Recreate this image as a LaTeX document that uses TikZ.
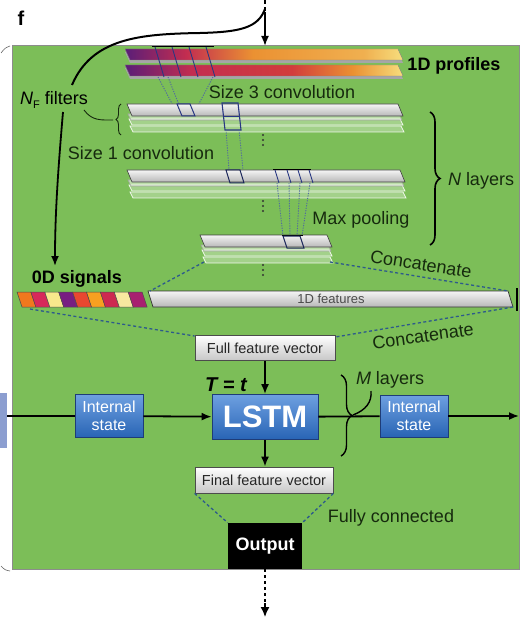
\documentclass[tikz,border=0pt]{standalone}
\usepackage{fontspec}
\setmainfont{Liberation Sans}
\usetikzlibrary{arrows.meta,decorations.pathreplacing,calc}
\definecolor{bg}{RGB}{124,190,88}
\definecolor{txt}{RGB}{22,42,14}
\definecolor{dashc}{RGB}{45,90,140}
\definecolor{dotc}{RGB}{80,105,160}
\definecolor{winc}{RGB}{40,55,130}
\definecolor{bbd}{RGB}{30,60,120}
\definecolor{bT}{RGB}{110,160,225}
\definecolor{bB}{RGB}{40,100,180}
\definecolor{pP}{RGB}{90,30,120}
\definecolor{pR}{RGB}{195,45,80}
\definecolor{pR2}{RGB}{210,60,60}
\definecolor{pO}{RGB}{235,145,50}
\definecolor{pY}{RGB}{247,222,125}
\definecolor{cA}{RGB}{240,120,30}
\definecolor{cB}{RGB}{215,40,90}
\definecolor{cC}{RGB}{248,232,140}
\definecolor{cD}{RGB}{120,30,130}
\definecolor{cE}{RGB}{232,72,48}
\definecolor{cF}{RGB}{248,160,32}
\definecolor{cG}{RGB}{205,40,80}
\definecolor{cH}{RGB}{248,232,160}
\definecolor{cI}{RGB}{168,32,112}
\definecolor{sideb}{RGB}{140,158,208}
\pgfdeclarehorizontalshading{profA}{100bp}{color(0bp)=(pP); color(25bp)=(pP); color(36bp)=(pR); color(48bp)=(pO); color(68bp)=(pO!60!pY); color(75bp)=(pY); color(100bp)=(pY)}
\pgfdeclarehorizontalshading{profB}{100bp}{color(0bp)=(pP); color(25bp)=(pP); color(37bp)=(pR); color(55bp)=(pR2); color(66bp)=(pO); color(75bp)=(pY); color(100bp)=(pY)}
\newcommand{\myslab}[6]{\path[#1] (#2,#4) -- (#3,#4) -- ({#3+#6},{#4+#5}) -- ({#2+#6},{#4+#5}) -- cycle;}
\newcommand{\mylayer}[3]{%
  \myslab{fill=white,fill opacity=0.3,draw=white,draw opacity=0.85,line width=0.7pt}{#1+3}{#2+3}{#3+22}{6}{3}
  \myslab{fill=white,fill opacity=0.3,draw=white,draw opacity=0.85,line width=0.7pt}{#1+2}{#2+2}{#3+15}{6}{3}
  \myslab{fill=white,fill opacity=0.5,draw=black!35,line width=0.6pt}{#1+1}{#2+1}{#3+10}{6}{3}
  \myslab{shade,top color=white!96!black,bottom color=black!28,draw=black!75,line width=0.6pt}{#1}{#2}{#3}{12}{5}}
\begin{document}
\begin{tikzpicture}[x=1pt,y=-1pt,
  lbl/.style={font=\fontsize{18}{20}\selectfont, text=txt, inner sep=0},
  bld/.style={font=\fontsize{18}{20}\selectfont\bfseries, text=black, inner sep=0},
  bluebox/.style={draw=bbd, line width=0.8pt, top color=bT, bottom color=bB, text=white, align=center, inner sep=0, font=\fontsize{16}{18.5}\selectfont},
  fvbox/.style={draw=black!70, line width=0.8pt, top color=white, bottom color=black!22, inner sep=0, minimum height=25pt, font=\fontsize{14.5}{16}\selectfont, text=black!85},
  arr/.style={-{Latex[length=10pt,width=8pt]}, line width=1.8pt},
  dsh/.style={dash pattern=on 3pt off 2.5pt, line width=1.3pt, draw=dashc},
  dotl/.style={dash pattern=on 1.2pt off 1.3pt, line width=0.9pt, draw=dotc},
  win/.style={draw=winc, line width=0.9pt},
]
\useasboundingbox (0,0) rectangle (520,620);
\fill[white] (0,0) rectangle (520,620);
% green panel
\draw[fill=bg, draw=black!45, line width=0.6pt] (12,45) rectangle (519,569);
\fill[sideb] (0,393) rectangle (7,448);
\draw[line width=0.6pt, black!60] (1,53) .. controls (5,48) .. (10,46);
\draw[line width=0.6pt, black!60] (1,566) .. controls (5,570) .. (10,571);
\node[font=\fontsize{20}{20}\selectfont\bfseries, inner sep=0] (f) at (21,18) {f};

% 1D profiles
\myslab{fill=black!35}{125}{398}{52}{11}{5}
\myslab{shade,shading=profA,draw=black!50,line width=0.4pt}{125}{398}{49}{11}{5}
\myslab{fill=black!35}{125}{398}{68}{11}{5}
\myslab{shade,shading=profB,draw=black!50,line width=0.4pt}{125}{398}{65}{11}{5}
\node[bld] (prof) at (454,66) {1D profiles};
% filter window on profiles
\draw[line width=1.5pt] (152,46.5) -- (214,46.5);
\foreach \xx in {155,172,189,206} \draw[win] (\xx,47) -- (\xx+9,77);
\draw[dotl] (158,77) -- (178,115);
\draw[dotl] (213,77) -- (193,115);
\draw[dotl] (168,77) -- (183,115);

% layers
\mylayer{127}{398}{104}
\mylayer{127}{400}{170}
\mylayer{200}{327}{235}
\foreach \yy in {135,140,145,201,206,211,265,270,275} \fill[black!80] (263,\yy) circle (1.2pt);

% size 3 conv box on layer 1
\myslab{draw=winc,line width=1pt}{177}{190}{104}{12}{5}
% size 1 conv box on layer 1
\draw[win,line width=1.1pt] (222,103) -- (238,103) -- (241,130) -- (225,130) -- cycle;
\draw[win] (223,116) -- (240,116);
\draw[dotl] (226,130) -- (229,170);
\draw[dotl] (239,130) -- (243,170);
\myslab{draw=winc!70!black,line width=1pt}{226}{240}{170}{13}{4}
% pooling window on layer 2
\draw[line width=1.5pt] (273,169.5) -- (311,169.5);
\foreach \xx in {275,287,298,309} \draw[win] (\xx,170) -- (\xx+4,183);
\draw[dotl] (277,183) -- (283,236);
\draw[dotl] (289,183) -- (290,236);
\draw[dotl] (300,183) -- (297,236);
\draw[dotl] (310,183) -- (302,236);
\draw[line width=1.5pt] (282,235.5) -- (303,235.5);
\myslab{draw=winc!70!black,line width=1pt}{283}{300}{236}{12}{4}

% labels
\node[lbl] (s3) at (282,92) {Size 3 convolution};
\node[lbl] (s1) at (141,153) {Size 1 convolution};
\node[lbl] (mp) at (361,220) {Max pooling};
\node[lbl] (nl) at (481,181) {\itshape N\upshape\ layers};
\node[lbl, text=black] (nf) at (54,100) {\itshape N\upshape\raisebox{-0.35ex}{\fontsize{11}{11}\selectfont F} filters};
\draw[decorate,decoration={brace,amplitude=10pt},line width=1.6pt] (430,112) -- (430,245);
\draw[decorate,decoration={brace,amplitude=5pt},line width=0.9pt,txt] (121,135) -- (121,104);
\draw[line width=0.9pt,txt] (84,110) .. controls (92,121) and (101,120) .. (113,120);

% top arrow and curve
\coordinate (top) at (265,0);
\coordinate (tj) at (265,9);
\draw[line width=2pt, dash pattern=on 4pt off 3pt] (top) -- (265,14);
\draw[arr] (265,12) -- (265,46);
\draw[line width=2pt] (tj) .. controls (258,28) and (240,32) .. (200,33) .. controls (140,34) and (92,38) .. (72,85);

% 0D signals
\node[bld] (zd) at (77,279) {0D signals};
\draw[arr] (63,112) .. controls (58,170) and (55,215) .. (55,266);
\foreach \c [count=\i from 0] in {cA,cB,cC,cD,cE,cF,cG,cH,cI} {
  \pgfmathsetmacro\xa{17+\i*13.9}
  \myslab{fill=\c,draw=black!70,line width=0.5pt}{\xa}{\xa+13.9}{292}{15}{5}
}
% 1D features
\myslab{shade,top color=white!96!black,bottom color=black!28,draw=black!80,line width=0.7pt}{148}{508}{291}{16}{5}
\node[font=\fontsize{13}{13}\selectfont, text=black!70, inner sep=0] (f1d) at (331,299) {1D features};
\draw[line width=1.3pt] (517,288) -- (517,311);

% full feature vector
\node[fvbox, minimum width=140pt] (ffv) at (265,348) {Full feature vector};
\draw[dsh] (204,262) -- (150,291);
\draw[dsh] (330,262) -- (508,291);
\draw[dsh] (30,309) -- (ffv.west |- 0,336);
\draw[dsh] (513,307) -- (ffv.east |- 0,337);
\node[lbl, rotate=-9] (cc1) at (421,264) {Concatenate};
\node[lbl, rotate=8] (cc2) at (423,336) {Concatenate};

% LSTM row
\node[font=\fontsize{20}{20}\selectfont\bfseries\itshape, inner sep=0] (tt) at (226,385) {T = t};
\node[bluebox, minimum width=106pt, minimum height=45pt, font=\fontsize{31}{31}\selectfont\bfseries] (lstm) at (265,417) {LSTM};
\node[bluebox, minimum width=68pt, minimum height=43pt] (isl) at (109,416) {Internal\\state};
\node[bluebox, minimum width=68pt, minimum height=42pt] (isr) at (414,416) {Internal\\state};
\coordinate (lin) at (7,416);
\coordinate (rout) at (519,416);
\draw[line width=1.8pt] (lin) -- (isl);
\draw[arr] (isl) -- (lstm);
\draw[line width=1.8pt] (lstm) -- (isr);
\draw[arr] (isr) -- (rout);
\draw[arr] (ffv) -- (lstm);
\draw[decorate,decoration={brace,amplitude=11pt},line width=1.4pt] (341,375) -- (341,456);
\draw[line width=1.4pt] (353,415) .. controls (366,410) and (372,402) .. (371,391);
\node[lbl] (ml) at (390,380) {\itshape M\upshape\ layers};

% final feature vector and output
\node[fvbox, minimum width=138pt, minimum height=26pt] (fin) at (264,480) {Final feature vector};
\draw[arr] (lstm) -- (fin.north -| lstm.south);
\node[fill=black, text=white, font=\fontsize{18}{20}\selectfont\bfseries, minimum width=74pt, minimum height=46pt, inner sep=0] (out) at (265,546) {Output};
\draw[dsh] (fin.south west) -- (out.north west);
\draw[dsh] (fin.south east) -- (out.north east);
\node[lbl] (fc) at (391,518) {Fully connected};
\coordinate (bot) at (265,617);
\draw[line width=2.2pt, dash pattern=on 3pt off 3pt] (out.south) -- (265,604);
\draw[-{Latex[length=10pt,width=9pt]}, line width=1.5pt] (265,603) -- (bot);
\end{tikzpicture}
\end{document}
